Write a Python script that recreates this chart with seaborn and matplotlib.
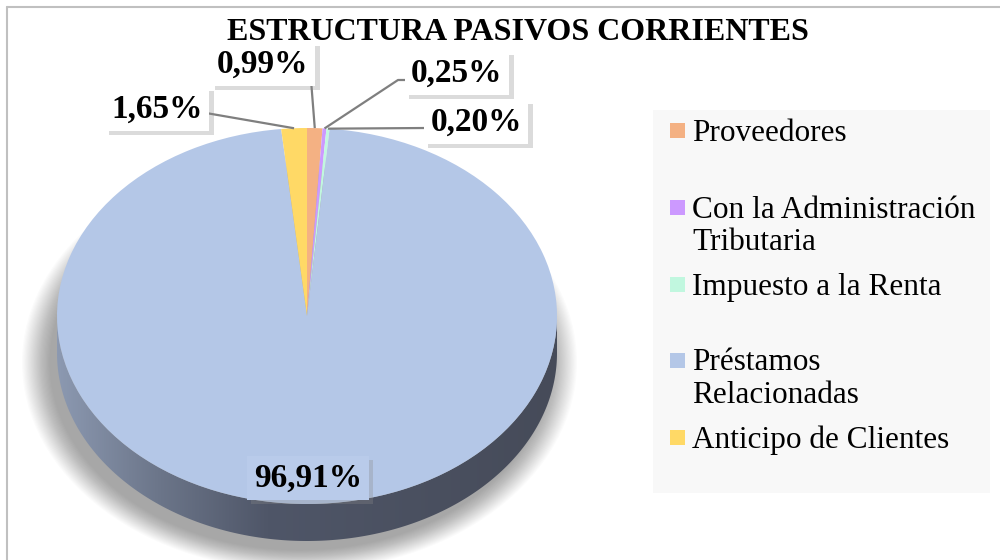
import numpy as np
import matplotlib
matplotlib.use("Agg")
import matplotlib.pyplot as plt
import seaborn as sns
from matplotlib import patheffects as pe
from matplotlib.patches import Polygon, Ellipse, Rectangle
from matplotlib.colors import LinearSegmentedColormap
from matplotlib.lines import Line2D

# ---------------- data ----------------
title = "ESTRUCTURA PASIVOS CORRIENTES"
categories = ["Proveedores", "Con la Administración Tributaria", "Impuesto a la Renta",
              "Préstamos Relacionadas", "Anticipo de Clientes"]
legend_labels = ["Proveedores", "Con la Administración\nTributaria", "Impuesto a la Renta",
                 "Préstamos\nRelacionadas", "Anticipo de Clientes"]
values = [0.99, 0.25, 0.20, 96.91, 1.65]
colors = ["#F4B183", "#CC99FF", "#C1F7DF", "#B4C7E7", "#FFD966"]

# ---------------- style ----------------
sns.set_theme(style="white")
plt.rcParams["font.family"] = ["Liberation Serif", "DejaVu Serif"]

W, H = 1000, 560
fig = plt.figure(figsize=(W / 100, H / 100), dpi=100)
fig.patch.set_facecolor("white")
ax = fig.add_axes([0, 0, 1, 1])

CX, CY, RX, RY = 307, 316, 250, 188


def P(x, y):
    """pixel (from top-left) -> data coordinates"""
    return ((x - CX) / RX, (CY - y) / RY)


depth = 37 / RY

# soft shadow under the pie
for s in np.linspace(1.11, 1.0, 24):
    ax.add_patch(Ellipse((-0.03, -depth - 0.05), 2 * s, 2 * s,
                         fc="black", ec="none", alpha=0.016, zorder=0))

# side of the 3D pie (front half)
t = np.linspace(np.pi, 2 * np.pi, 300)
upper = np.column_stack([np.cos(t), np.sin(t)])
lower = np.column_stack([np.cos(t[::-1]), np.sin(t[::-1]) - depth])
side = Polygon(np.vstack([upper, lower]), closed=True, fc="none", ec="none",
               transform=ax.transData)
ax.add_patch(side)
cmap = LinearSegmentedColormap.from_list(
    "side", [(0, "#8c99b1"), (0.2, "#6c768a"), (0.42, "#4f5668"), (1, "#464b59")])
grad = np.linspace(0, 1, 256).reshape(1, -1)
im = ax.imshow(grad, extent=[-1, 1, -1 - depth, 0], aspect="auto", cmap=cmap,
               origin="lower", zorder=1)
im.set_clip_path(side)

# top face
wedges, _ = ax.pie(values, colors=colors, startangle=90, counterclock=False,
                   radius=1, center=(0, 0), wedgeprops=dict(linewidth=0, zorder=2))

ax.set_aspect("auto")
ax.set_xlim(P(0, 0)[0], P(W, 0)[0])
ax.set_ylim(P(0, H)[1], P(0, 0)[1])
ax.axis("off")

# ---------------- data labels ----------------
cum = np.concatenate([[0], np.cumsum(values)[:-1]])
mid = np.deg2rad(90 - 360 * (cum + np.array(values) / 2) / 100)

label_pos = [(263, 64), (457, 73), (476, 122), (308, 478), (157, 109)]
leader_pts = [[(311, 80)], [(398, 80), (407, 80)], [(426, 128)], None, [(206, 113)]]
box_fc = ["white", "white", "white", "#B9CBEA", "white"]

for i, v in enumerate(values):
    txt = f"{v:.2f}".replace(".", ",") + "%"
    x, y = P(*label_pos[i])
    tt = ax.text(x, y, txt, ha="center", va="center", fontsize=24, fontweight="bold",
                 color="black", zorder=6,
                 bbox=dict(boxstyle="square,pad=0.2", fc=box_fc[i], ec="none"))
    tt.get_bbox_patch().set_path_effects(
        [pe.SimplePatchShadow(offset=(3, -3), shadow_rgbFace="#8a8a8a", alpha=0.3),
         pe.Normal()])
    if leader_pts[i] is not None:
        pts = [(np.cos(mid[i]), np.sin(mid[i]))] + [P(*p) for p in leader_pts[i]]
        xs, ys = zip(*pts)
        ax.plot(xs, ys, color="#7f7f7f", lw=1.6, zorder=5, solid_capstyle="butt")

# ---------------- title ----------------
ax.text(*P(518, 40), title, ha="center", va="baseline", fontsize=23,
        fontweight="bold", color="black", zorder=7)

# ---------------- legend ----------------
lx0, ly0 = P(653, 493)
lx1, ly1 = P(990, 110)
ax.add_patch(Rectangle((lx0, ly0), lx1 - lx0, ly1 - ly0, fc="#F8F8F8", ec="none", zorder=3))
entry_y = [130, 207, 284, 360, 437]
for lab, col, yc in zip(legend_labels, colors, entry_y):
    mx, my = P(670, yc + 7.5)
    ax.add_patch(Rectangle((mx, my), 15 / RX, 15 / RY, fc=col, ec="none", zorder=4))
    ax.text(*P(692, yc - 11.5), lab, ha="left", va="top", fontsize=22.5,
            color="black", linespacing=1.17, zorder=4)

# ---------------- outer frame ----------------
fig.add_artist(Line2D([7 / W, 7 / W], [0, 1 - 6.5 / H], color="#C0C0C0", lw=1.5))
fig.add_artist(Line2D([7 / W, 1], [1 - 6.5 / H, 1 - 6.5 / H], color="#C0C0C0", lw=1.5))

fig.savefig("out.png", dpi=100, facecolor="white")
